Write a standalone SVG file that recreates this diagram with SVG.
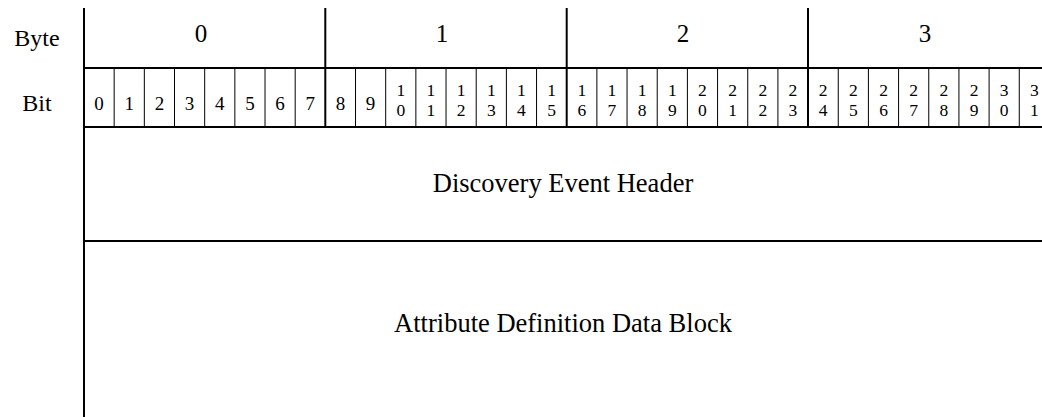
<svg xmlns="http://www.w3.org/2000/svg" width="1042" height="417" viewBox="0 0 1042 417">
<style>
  .lbl { font-family: "Liberation Serif", "Times New Roman", serif; font-size: 24px; fill: #000; text-anchor: middle; }
  .byte { font-family: "Liberation Serif", "Times New Roman", serif; font-size: 25px; fill: #000; text-anchor: middle; }
  .bit { font-family: "Liberation Serif", "Times New Roman", serif; font-size: 19px; fill: #000; text-anchor: middle; }
  .bit2 { font-family: "Liberation Serif", "Times New Roman", serif; font-size: 17.5px; fill: #000; text-anchor: middle; }
  .field { font-family: "Liberation Serif", "Times New Roman", serif; font-size: 26.5px; fill: #000; text-anchor: middle; }
  .thick { stroke: #000; stroke-width: 2; fill: none; }
  .thin { stroke: #000; stroke-width: 1; fill: none; }
</style>
<rect width="1042" height="417" fill="#fff"/>
<g id="row-labels">
  <text class="lbl" x="37" y="46">Byte</text>
  <text class="lbl" x="37" y="111">Bit</text>
</g>
<g id="grid">
  <line class="thick" x1="84" y1="8" x2="84" y2="417"/>
  <line class="thick" x1="325.3" y1="8" x2="325.3" y2="127"/>
  <line class="thick" x1="566.7" y1="8" x2="566.7" y2="127"/>
  <line class="thick" x1="808" y1="8" x2="808" y2="127"/>
  <line class="thick" x1="83" y1="68" x2="1042" y2="68"/>
  <line class="thick" x1="83" y1="127" x2="1042" y2="127"/>
  <line class="thick" x1="83" y1="241" x2="1042" y2="241"/>
  <g id="bit-dividers">
    <line class="thin" x1="114.17" y1="68" x2="114.17" y2="127"/>
    <line class="thin" x1="144.34" y1="68" x2="144.34" y2="127"/>
    <line class="thin" x1="174.51" y1="68" x2="174.51" y2="127"/>
    <line class="thin" x1="204.68" y1="68" x2="204.68" y2="127"/>
    <line class="thin" x1="234.85" y1="68" x2="234.85" y2="127"/>
    <line class="thin" x1="265.02" y1="68" x2="265.02" y2="127"/>
    <line class="thin" x1="295.19" y1="68" x2="295.19" y2="127"/>
    <line class="thin" x1="355.53" y1="68" x2="355.53" y2="127"/>
    <line class="thin" x1="385.70" y1="68" x2="385.70" y2="127"/>
    <line class="thin" x1="415.87" y1="68" x2="415.87" y2="127"/>
    <line class="thin" x1="446.04" y1="68" x2="446.04" y2="127"/>
    <line class="thin" x1="476.21" y1="68" x2="476.21" y2="127"/>
    <line class="thin" x1="506.38" y1="68" x2="506.38" y2="127"/>
    <line class="thin" x1="536.55" y1="68" x2="536.55" y2="127"/>
    <line class="thin" x1="596.89" y1="68" x2="596.89" y2="127"/>
    <line class="thin" x1="627.06" y1="68" x2="627.06" y2="127"/>
    <line class="thin" x1="657.23" y1="68" x2="657.23" y2="127"/>
    <line class="thin" x1="687.40" y1="68" x2="687.40" y2="127"/>
    <line class="thin" x1="717.57" y1="68" x2="717.57" y2="127"/>
    <line class="thin" x1="747.74" y1="68" x2="747.74" y2="127"/>
    <line class="thin" x1="777.91" y1="68" x2="777.91" y2="127"/>
    <line class="thin" x1="838.25" y1="68" x2="838.25" y2="127"/>
    <line class="thin" x1="868.42" y1="68" x2="868.42" y2="127"/>
    <line class="thin" x1="898.59" y1="68" x2="898.59" y2="127"/>
    <line class="thin" x1="928.76" y1="68" x2="928.76" y2="127"/>
    <line class="thin" x1="958.93" y1="68" x2="958.93" y2="127"/>
    <line class="thin" x1="989.10" y1="68" x2="989.10" y2="127"/>
    <line class="thin" x1="1019.27" y1="68" x2="1019.27" y2="127"/>
  </g>
</g>
<g id="byte-numbers">
  <text class="byte" x="201" y="42">0</text>
  <text class="byte" x="442" y="42">1</text>
  <text class="byte" x="683" y="42">2</text>
  <text class="byte" x="925" y="42">3</text>
</g>
<g id="bit-numbers">
  <text class="bit" x="99.08" y="110">0</text>
  <text class="bit" x="129.25" y="110">1</text>
  <text class="bit" x="159.42" y="110">2</text>
  <text class="bit" x="189.59" y="110">3</text>
  <text class="bit" x="219.76" y="110">4</text>
  <text class="bit" x="249.93" y="110">5</text>
  <text class="bit" x="280.10" y="110">6</text>
  <text class="bit" x="310.27" y="110">7</text>
  <text class="bit" x="340.44" y="110">8</text>
  <text class="bit" x="370.61" y="110">9</text>
  <text class="bit2" x="400.78" y="96">1<tspan x="400.78" y="116">0</tspan></text>
  <text class="bit2" x="430.95" y="96">1<tspan x="430.95" y="116">1</tspan></text>
  <text class="bit2" x="461.12" y="96">1<tspan x="461.12" y="116">2</tspan></text>
  <text class="bit2" x="491.29" y="96">1<tspan x="491.29" y="116">3</tspan></text>
  <text class="bit2" x="521.46" y="96">1<tspan x="521.46" y="116">4</tspan></text>
  <text class="bit2" x="551.63" y="96">1<tspan x="551.63" y="116">5</tspan></text>
  <text class="bit2" x="581.80" y="96">1<tspan x="581.80" y="116">6</tspan></text>
  <text class="bit2" x="611.97" y="96">1<tspan x="611.97" y="116">7</tspan></text>
  <text class="bit2" x="642.14" y="96">1<tspan x="642.14" y="116">8</tspan></text>
  <text class="bit2" x="672.31" y="96">1<tspan x="672.31" y="116">9</tspan></text>
  <text class="bit2" x="702.48" y="96">2<tspan x="702.48" y="116">0</tspan></text>
  <text class="bit2" x="732.65" y="96">2<tspan x="732.65" y="116">1</tspan></text>
  <text class="bit2" x="762.82" y="96">2<tspan x="762.82" y="116">2</tspan></text>
  <text class="bit2" x="792.99" y="96">2<tspan x="792.99" y="116">3</tspan></text>
  <text class="bit2" x="823.16" y="96">2<tspan x="823.16" y="116">4</tspan></text>
  <text class="bit2" x="853.33" y="96">2<tspan x="853.33" y="116">5</tspan></text>
  <text class="bit2" x="883.50" y="96">2<tspan x="883.50" y="116">6</tspan></text>
  <text class="bit2" x="913.67" y="96">2<tspan x="913.67" y="116">7</tspan></text>
  <text class="bit2" x="943.84" y="96">2<tspan x="943.84" y="116">8</tspan></text>
  <text class="bit2" x="974.01" y="96">2<tspan x="974.01" y="116">9</tspan></text>
  <text class="bit2" x="1004.18" y="96">3<tspan x="1004.18" y="116">0</tspan></text>
  <text class="bit2" x="1034.35" y="96">3<tspan x="1034.35" y="116">1</tspan></text>
</g>
<g id="discovery-event-header">
  <text class="field" x="563" y="192">Discovery Event Header</text>
</g>
<g id="attribute-definition-data-block">
  <text class="field" x="563" y="332">Attribute Definition Data Block</text>
</g>
</svg>
